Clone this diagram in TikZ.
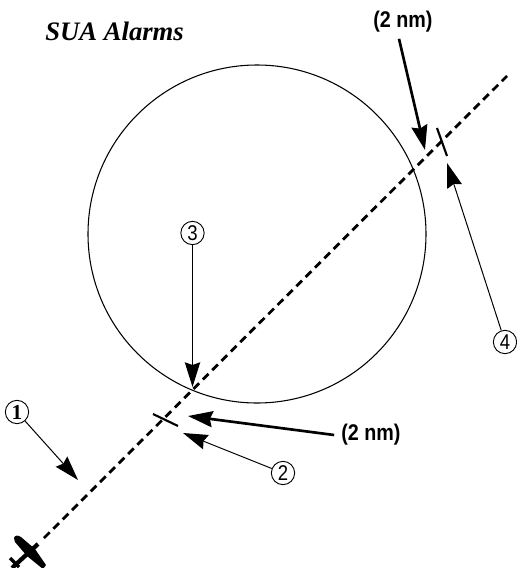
\documentclass[tikz,border=0pt]{standalone}
\usepackage{fontspec}
\setmainfont{Liberation Serif}
\setsansfont[FakeStretch=0.87]{Liberation Sans}
\usetikzlibrary{arrows.meta}
\tikzset{
  x=0.75pt,y=-0.75pt,
  thin line/.style={line width=0.75pt,-{Stealth[length=18.5pt,width=11.5pt,inset=2pt]}},
  thick line/.style={line width=2pt,-{Stealth[length=18.5pt,width=12pt,inset=2pt]}},
  num/.style={draw,circle,line width=0.7pt,inner sep=0pt,minimum size=17.5pt,font=\sffamily\fontsize{16}{16}\selectfont},
  dist/.style={font=\sffamily\bfseries\fontsize{17}{18}\selectfont,inner sep=0pt},
  tick/.style={line width=1.6pt},
}
\begin{document}
\begin{tikzpicture}
\useasboundingbox (0,0) rectangle (517,568);
\clip (0,0) rectangle (517,568);
\node[inner sep=0pt,anchor=base west,font=\rmfamily\bfseries\itshape\fontsize{20}{22}\selectfont] (title) at (45,40) {SUA Alarms};
\node[draw,circle,line width=0.8pt,minimum size=253.5pt,inner sep=0pt] (zone) at (257,234) {};
\coordinate (start) at (44,538);
\coordinate (end) at (507,76);
\draw[line width=2.1pt,dash pattern=on 6pt off 3.9pt] (start) -- (end);
\coordinate (t1a) at (153,414); \coordinate (t1b) at (178,426);
\coordinate (t2a) at (437,128); \coordinate (t2b) at (447,156);
\draw[tick] (t1a) -- (t1b);
\draw[tick] (t2a) -- (t2b);
% aircraft
\coordinate (na) at (38,544); \coordinate (nb) at (12,568);
\coordinate (ta) at (10,558); \coordinate (tb) at (19,567);
\fill (14,538) .. controls (15,535) and (18,535) .. (21,537) -- (35,549) -- (46,565) -- (43,569) -- (27,556) -- (15,542) -- cycle;
\draw[line width=3.2pt] (na) -- (nb);
\draw[line width=2.6pt] (ta) -- (tb);
% callouts
\node[num,font=\rmfamily\bfseries\fontsize{16}{16}\selectfont] (n1) at (17,412) {1};
\node[num] (n2) at (283,473) {2};
\node[num] (n3) at (192.5,233) {3};
\node[num] (n4) at (505,342) {4};
\coordinate (a1) at (78,480);
\coordinate (a2) at (183,433);
\coordinate (a3) at (192.5,387);
\coordinate (a4) at (447,163);
\draw[thin line] (n1) -- (a1);
\draw[thin line] (n2) -- (a2);
\draw[thin line] (n3) -- (a3);
\draw[thin line] (n4) -- (a4);
\node[dist] (d1) at (403,22) {(2 nm)};
\node[dist] (d2) at (371,435) {(2 nm)};
\coordinate (b1) at (425,150);
\coordinate (b2) at (188,416);
\draw[thick line] (d1.south) ++(-4,6) coordinate (d1s) (d1s) -- (b1);
\draw[thick line] (d2.west) ++(-7,0) coordinate (d2s) (d2s) -- (b2);
\end{tikzpicture}
\end{document}
